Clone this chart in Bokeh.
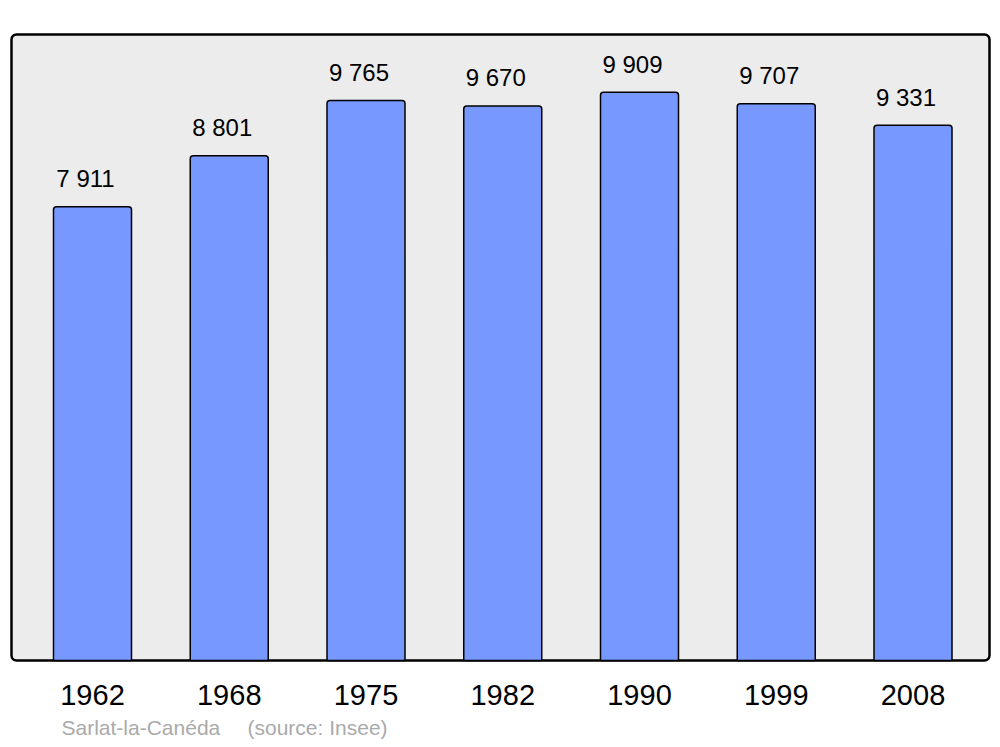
from bokeh.plotting import figure
from bokeh.models import Range1d, ColumnDataSource
from bokeh.core.properties import value
from bokeh.embed import file_html
from bokeh.resources import INLINE

years = ["1962", "1968", "1975", "1982", "1990", "1999", "2008"]
population = [7911, 8801, 9765, 9670, 9909, 9707, 9331]
labels = ["7 911", "8 801", "9 765", "9 670", "9 909", "9 707", "9 331"]
commune = "Sarlat-la-Canéda"
source_txt = "(source: Insee)"

# layout (pixels)
W, H = 992, 739
base_px = 79          # distance of y=0 from canvas bottom
k = 0.05735           # pixels per inhabitant
step = 136.75         # pixels between bar centres
x0_px = 92            # first bar centre from canvas left

p = figure(width=W, height=H, output_backend="svg", toolbar_location=None,
           min_border=0, min_border_left=0, min_border_right=0,
           min_border_top=0, min_border_bottom=0,
           x_range=Range1d(-x0_px / step, (W - x0_px) / step),
           y_range=Range1d(-base_px / k, (H - base_px) / k))
p.axis.visible = False
p.grid.visible = False
p.outline_line_color = None
p.background_fill_color = "white"
p.border_fill_color = "white"

def xd(px):
    return (px - x0_px) / step

def yd(px_from_bottom):
    return (px_from_bottom - base_px) / k

# panel
p.quad(left=[xd(11)], right=[xd(989)], bottom=[0], top=[yd(H - 34)],
       fill_color="#ececec", line_color="black", line_width=2.5,
       border_radius=5)

xs = list(range(len(years)))
src = ColumnDataSource(dict(x=xs, top=population, lab=labels, yr=years,
                            ly=[v + 28 / k for v in population],
                            lx=[x - 7 / step for x in xs],
                            yy=[-34 / k] * len(xs)))

p.vbar(x="x", top="top", bottom=0, width=78 / step, source=src,
       fill_color="#7799ff", line_color="black", line_width=1.5,
       border_radius=(3, 3, 0, 0))

p.text(x="lx", y="ly", text="lab", source=src, text_align="center",
       text_baseline="alphabetic", text_font=value("Liberation Sans"),
       text_font_size="24px", text_color="black")

p.text(x="x", y="yy", text="yr", source=src, text_align="center",
       text_baseline="alphabetic", text_font=value("Liberation Sans"),
       text_font_size="29px", text_color="black")

p.text(x=[xd(61), xd(247)], y=[-67 / k, -67 / k], text=[commune, source_txt],
       text_align="left", text_baseline="alphabetic",
       text_font=value("Liberation Sans"), text_font_size="21px",
       text_color="#aaaaaa")

open("out.html", "w").write(file_html(p, INLINE))
